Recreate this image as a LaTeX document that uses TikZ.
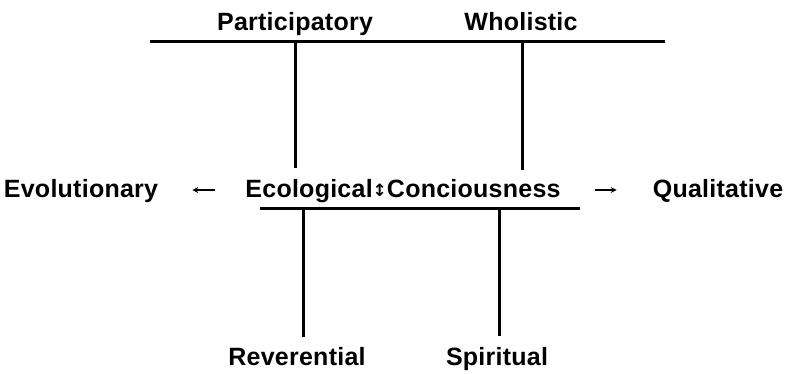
\documentclass[tikz,border=0pt]{standalone}
\usepackage{fontspec}
\usetikzlibrary{arrows.meta}
\setmainfont{Liberation Sans}[LetterSpace=1]
\newfontfamily\symfont{DejaVu Sans}
\begin{document}
\begin{tikzpicture}[x=1pt,y=-1pt,
  lbl/.style={font=\bfseries\fontsize{25}{29}\selectfont, inner sep=0pt, anchor=base},
  rule/.style={line width=3pt},
  link/.style={line width=3pt},
  pointer/.style={line width=2pt, -{Stealth[length=6pt,width=6pt]}}]
\useasboundingbox (0,0) rectangle (786,373);
% labels
\node[lbl] (part) at (295,30) {Participatory};
\node[lbl] (whol) at (521,30) {Wholistic};
\node[lbl] (evo) at (81,197) {Evolutionary};
\node[lbl] (ec) at (403,197) {Ecological{\symfont\fontsize{17}{18}\selectfont\raisebox{1pt}{↕}}Conciousness};
\node[lbl] (qual) at (718,197) {Qualitative};
\node[lbl] (rev) at (297,365) {Reverential};
\node[lbl] (spir) at (497,365) {Spiritual};
% bars
\coordinate (tbL) at (150,41);
\coordinate (tbR) at (665,41);
\coordinate (ubL) at (260,208);
\coordinate (ubR) at (580,208);
\draw[rule] (tbL) -- (tbR);
\draw[rule] (ubL) -- (ubR);
% verticals
\coordinate (t1) at (295,41);
\coordinate (t2) at (522,41);
\coordinate (e1) at (295,168);
\coordinate (e2) at (522,170);
\draw[link] (t1) -- (e1);
\draw[link] (t2) -- (e2);
\coordinate (u1) at (303,208);
\coordinate (u2) at (499,208);
\coordinate (r1) at (303,337);
\coordinate (s1) at (499,336);
\draw[link] (u1) -- (r1);
\draw[link] (u2) -- (s1);
% arrows
\draw[pointer] ([xshift=-30pt,yshift=7pt]ec.base west) -- ([xshift=34pt,yshift=7pt]evo.base east);
\draw[pointer] ([xshift=34pt,yshift=7pt]ec.base east) -- ([xshift=-36pt,yshift=7pt]qual.base west);
\end{tikzpicture}
\end{document}
